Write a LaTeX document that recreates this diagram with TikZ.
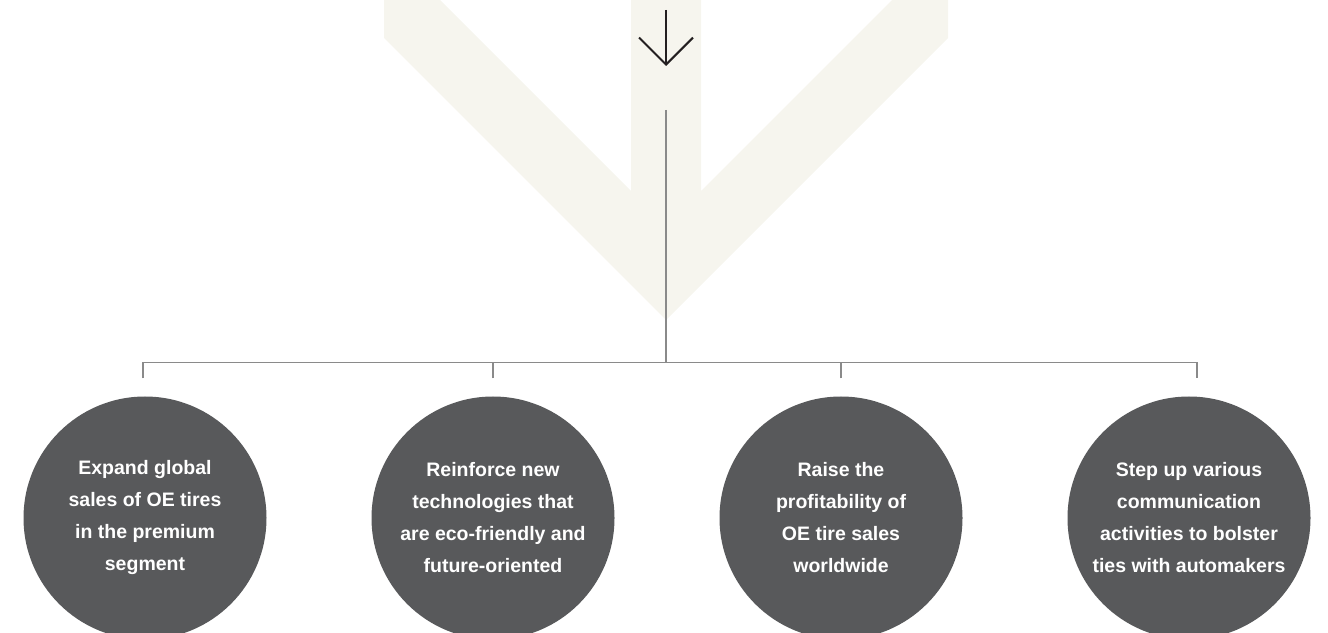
\documentclass[tikz,border=0pt]{standalone}
\usepackage{fontspec}
\setmainfont{Liberation Sans}
\usetikzlibrary{positioning,calc,arrows.meta}
\definecolor{GoalGrey}{RGB}{88,89,91}
\definecolor{ChevronBeige}{RGB}{246,245,238}
\definecolor{LinkGrey}{RGB}{138,138,138}
\definecolor{ArrowDark}{RGB}{35,31,32}

\begin{document}
\begin{tikzpicture}[x=1pt,y=1pt,
  goal/.style={circle,fill=GoalGrey,minimum size=243pt,inner sep=0pt,align=center,text=white,font=\fontsize{19.5}{32}\selectfont\bfseries},
  link/.style={draw=LinkGrey,line width=1.2pt}]
\useasboundingbox (0,0) rectangle (1328,632);
\clip (0,0) rectangle (1328,632);
\fill[ChevronBeige] (384,642) -- (384,594) -- (666,312) -- (948,594) -- (948,642) -- (902,642) -- (701,441) -- (701,642) -- (631,642) -- (631,441) -- (430,642) -- cycle;
\draw[ArrowDark,line width=2pt,-{Straight Barb[length=27pt,width=54pt]}] (666,622) -- (666,566);
\node[goal] (g1) at (145,114) {Expand global\\sales of OE tires\\in the premium\\segment};
\node[goal] (g2) at (493,114) {Reinforce new\\technologies that\\are eco-friendly and\\future-oriented};
\node[goal] (g3) at (841,114) {Raise the\\profitability of\\OE tire sales\\worldwide};
\node[goal] (g4) at (1189,114) {Step up various\\communication\\activities to bolster\\ties with automakers};
\coordinate (top) at (666,522);
\coordinate (bus) at (666,270);
\draw[link] (top) -- (bus);
\draw[link] ($(g1.north)+(-2,18)$) -- ++(0,16) -| ($(g4.north)+(8,18)$);
\draw[link] ($(g2.north)+(0,18)$) -- ++(0,16);
\draw[link] ($(g3.north)+(0,18)$) -- ++(0,16);
\end{tikzpicture}
\end{document}
